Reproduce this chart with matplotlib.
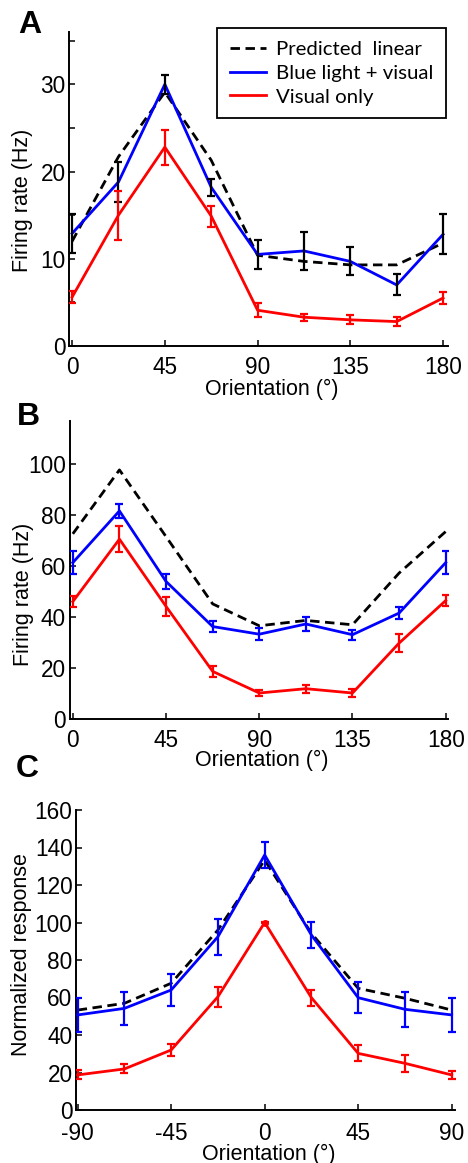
import numpy as np
import matplotlib
matplotlib.use('Agg')
import matplotlib.pyplot as plt

plt.rcParams['font.family'] = ['Liberation Sans', 'DejaVu Sans']

# orientations
ori_ab = [0, 22.5, 45, 67.5, 90, 112.5, 135, 157.5, 180]
ori_c = [-90, -67.5, -45, -22.5, 0, 22.5, 45, 67.5, 90]
xt_ab = [0, 45, 90, 135, 180]
xt_c = [-90, -45, 0, 45, 90]
xt_c_labels = ['-90', '-45', '0', '45', '90']

# panel A (Hz)
a_pred = [12.0, 21.7, 29.1, 21.3, 10.4, 9.7, 9.3, 9.3, 11.8]
a_blue = [12.9, 18.8, 30.0, 18.2, 10.5, 10.9, 9.7, 7.0, 12.8]
a_blue_err = [2.2, 2.3, 1.1, 1.0, 1.7, 2.2, 1.6, 1.2, 2.3]
a_red = [5.6, 15.0, 22.8, 14.9, 4.1, 3.3, 3.0, 2.8, 5.5]
a_red_err = [0.7, 2.8, 2.0, 1.2, 0.8, 0.4, 0.5, 0.5, 0.7]

# panel B (Hz)
b_pred = [72.7, 97.8, 71.6, 45.2, 36.6, 38.7, 37.0, 57.3, 73.6]
b_blue = [61.4, 81.7, 54.0, 36.3, 33.3, 37.3, 33.1, 41.6, 61.4]
b_blue_err = [4.4, 2.8, 3.0, 2.2, 2.4, 2.9, 2.0, 2.3, 4.4]
b_red = [46.1, 70.6, 44.2, 18.7, 10.2, 11.9, 10.2, 29.8, 46.5]
b_red_err = [2.2, 5.1, 3.6, 2.3, 1.0, 1.6, 1.4, 3.4, 2.3]

# panel C (normalized)
c_pred = [53.3, 56.9, 67.6, 96.0, 133.3, 94.2, 64.9, 59.6, 53.3]
c_blue = [50.7, 54.2, 64.0, 92.4, 136.0, 93.3, 59.9, 53.7, 50.7]
c_blue_err = [9.0, 8.9, 8.7, 9.7, 6.8, 7.1, 8.4, 9.5, 9.0]
c_red = [18.7, 21.9, 32.0, 60.4, 100.0, 59.9, 30.2, 24.9, 18.7]
c_red_err = [2.4, 2.4, 3.2, 5.4, 0.5, 4.2, 4.3, 4.4, 2.3]

W, H = 468, 1163
fig = plt.figure(figsize=(W / 100, H / 100), dpi=100)

def px_axes(l, t, r, b):
    return fig.add_axes([l / W, 1 - b / H, (r - l) / W, (b - t) / H])

def style(ax):
    for s in ['top', 'right']:
        ax.spines[s].set_visible(False)
    for s in ['left', 'bottom']:
        ax.spines[s].set_linewidth(1.4)
    ax.tick_params(direction='in', length=4, width=1.1, labelsize=16.3)
    ax.tick_params(axis='y', pad=2.5)
    ax.tick_params(axis='x', pad=7.5)
    ax.tick_params(which='minor', direction='in', length=4, width=1.1)

def draw(ax, x, pred, blue, blue_err, red, red_err, blue_ecol):
    ax.plot(x, pred, color='black', lw=2.0, dashes=(3.4, 2.0), zorder=3, label='Predicted  linear')
    ax.plot(x, blue, color='#0000ff', lw=2.0, zorder=4, label='Blue light + visual')
    ax.errorbar(x, blue, yerr=blue_err, fmt='none', ecolor=blue_ecol, elinewidth=1.6,
                capsize=3, capthick=1.6, zorder=5)
    ax.plot(x, red, color='#ff0000', lw=2.0, zorder=4, label='Visual only')
    ax.errorbar(x, red, yerr=red_err, fmt='none', ecolor='#ff0000', elinewidth=1.6,
                capsize=3, capthick=1.6, zorder=5)

# ---- A ----
axA = px_axes(69, 32, 448, 346)
style(axA)
draw(axA, ori_ab, a_pred, a_blue, a_blue_err, a_red, a_red_err, 'black')
axA.set_xlim(-1.5, 182.4)
axA.set_ylim(0, 36)
axA.set_xticks(xt_ab)
axA.set_yticks([0, 10, 20, 30])
axA.set_yticks([5, 15, 25, 35], minor=True)
axA.set_ylabel('Firing rate (Hz)', fontsize=15.5)
axA.yaxis.set_label_coords(-0.095, 0.465)
axA.set_xlabel('Orientation (°)', fontsize=15.5)
axA.xaxis.set_label_coords(0.534, -0.105)
leg = axA.legend(loc='upper right', bbox_to_anchor=(446 / W, 1 - 28 / H),
                 bbox_transform=fig.transFigure, fancybox=False, framealpha=1,
                 edgecolor='black', handlelength=1.75, handletextpad=0.5,
                 borderpad=0.62, borderaxespad=0, labelspacing=0.32,
                 prop={'family': ['Lato', 'DejaVu Sans'], 'size': 14.7})
leg.get_frame().set_linewidth(1.3)

# ---- B ----
axB = px_axes(69.5, 421, 448, 719)
style(axB)
draw(axB, ori_ab, b_pred, b_blue, b_blue_err, b_red, b_red_err, '#0000ff')
axB.set_xlim(-1.6, 181.1)
axB.set_ylim(0, 117)
axB.set_xticks(xt_ab)
axB.set_yticks([0, 20, 40, 60, 80, 100])
axB.set_ylabel('Firing rate (Hz)', fontsize=15.5)
axB.yaxis.set_label_coords(-0.094, 0.417)
axB.set_xlabel('Orientation (°)', fontsize=15.5)
axB.xaxis.set_label_coords(0.509, -0.105)

# ---- C ----
axC = px_axes(76, 810, 455, 1110)
style(axC)
axC.tick_params(axis='x', pad=8.5)
draw(axC, ori_c, c_pred, c_blue, c_blue_err, c_red, c_red_err, '#0000ff')
axC.plot([0], [c_red[4]], 'o', color='#ff0000', ms=4, zorder=6)
axC.set_xlim(-90.8, 91.6)
axC.set_ylim(0, 160)
axC.set_xticks(xt_c)
axC.set_xticklabels(xt_c_labels)
axC.set_yticks(np.arange(0, 161, 20))
axC.set_ylabel('Normalized response', fontsize=15.5)
axC.yaxis.set_label_coords(-0.116, 0.517)
axC.set_xlabel('Orientation (°)', fontsize=15.5)
axC.xaxis.set_label_coords(0.509, -0.113)

# panel letters
for lab, x, y in [('A', 18, 33), ('B', 17, 425), ('C', 16, 777)]:
    fig.text(x / W, 1 - y / H, lab, fontsize=23, fontweight='bold', va='baseline', ha='left')

fig.savefig('out.png', dpi=100)
